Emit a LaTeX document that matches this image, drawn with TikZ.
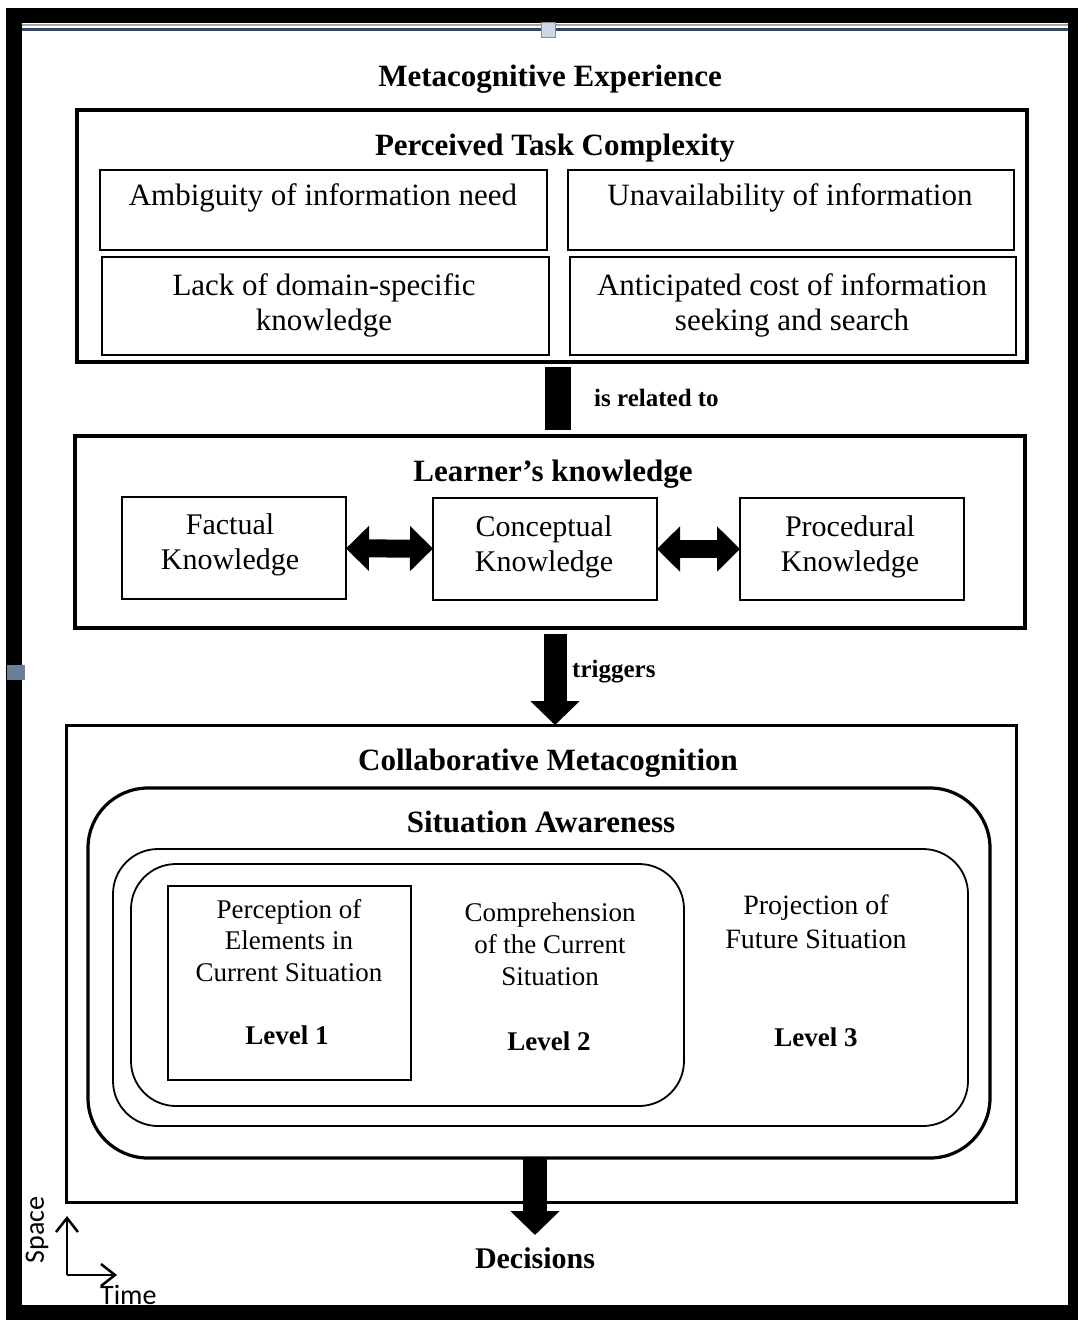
\documentclass[tikz,border=0pt]{standalone}
\usepackage{fontspec}
\setmainfont{Liberation Serif}
\newfontfamily\axisfont{Carlito}
\usetikzlibrary{arrows.meta}
\definecolor{rulerblue}{HTML}{34475C}
\definecolor{handlefill}{HTML}{C9D7E6}
\definecolor{handleside}{HTML}{6A7F99}

\begin{document}
\begin{tikzpicture}[x=1pt,y=-1pt,
  heavybox/.style={draw, line width=3.5pt, inner sep=0pt, outer sep=0pt},
  lightbox/.style={draw, line width=1.8pt, inner sep=0pt, outer sep=0pt},
  heavyround/.style={draw, line width=3.2pt, inner sep=0pt, outer sep=0pt, rounded corners=60pt},
  lightround/.style={draw, line width=1.8pt, inner sep=0pt, outer sep=0pt, rounded corners=45pt},
  titletext/.style={font=\fontsize{31}{36}\selectfont\bfseries, inner sep=0pt, anchor=base},
  bodytext/.style={font=\fontsize{31}{35}\selectfont, inner sep=0pt, anchor=base, align=center},
  knowtext/.style={font=\fontsize{30}{35}\selectfont, inner sep=0pt, anchor=base, align=center},
  satext/.style={font=\fontsize{27}{31.5}\selectfont, inner sep=0pt, anchor=base, align=center},
  leveltext/.style={font=\fontsize{27}{31}\selectfont\bfseries, inner sep=0pt, anchor=base},
  linktext/.style={font=\fontsize{25}{30}\selectfont\bfseries, inner sep=0pt, anchor=base west},
  fatbar/.style={line width=26pt},
  fatarrow/.style={line width=23pt, -{Triangle[width=48pt,length=24pt]}},
  twoway/.style={line width=18pt, {Triangle[width=44pt,length=23pt]}-{Triangle[width=44pt,length=23pt]}},
  axisline/.style={line width=2.5pt, -{Straight Barb[length=14pt,width=22pt,line width=2.5pt]}},
  axistext/.style={font=\fontsize{28}{32}\selectfont\axisfont, inner sep=0pt}
]
\useasboundingbox (0,0) rectangle (1078,1320);

% window frame
\fill[black] (6,8) rectangle (1078,1320);
\fill[white] (22,23) rectangle (1068,1305);
\draw[line width=1.5pt, black!35] (22,25) -- (1068,25);
\draw[line width=3pt, rulerblue] (22,29.5) -- (1068,29.5);
\draw[line width=1pt, draw=black!45, fill=handlefill] (541,22) rectangle (555,37);
\fill[handleside] (7,665) rectangle (25,680);

% title
\node[titletext] (meta) at (550,86) {Metacognitive Experience};

% perceived task complexity (multi-line texts are placed by their last baseline)
\node[heavybox, minimum width=950pt, minimum height=252pt] (ptc) at (552,236) {};
\node[titletext] (ptc-t) at (555,155) {Perceived Task Complexity};
\node[lightbox, minimum width=447pt, minimum height=80pt] (amb) at (323.5,210) {};
\node[bodytext] (amb-t) at (323,205) {Ambiguity of information need};
\node[lightbox, minimum width=446pt, minimum height=80pt] (unav) at (791,210) {};
\node[bodytext] (unav-t) at (790,205) {Unavailability of information};
\node[lightbox, minimum width=447pt, minimum height=98pt] (lack) at (325.5,306) {};
\node[bodytext] (lack-t) at (324,330) {Lack of domain-specific\\knowledge};
\node[lightbox, minimum width=446pt, minimum height=98pt] (antc) at (793,306) {};
\node[bodytext] (antc-t) at (792,330) {Anticipated cost of information\\seeking and search};

% learner's knowledge
\node[heavybox, minimum width=950pt, minimum height=192pt] (lk) at (550,532) {};
\node[titletext] (lk-t) at (553,481) {Learner’s knowledge};
\node[lightbox, minimum width=224pt, minimum height=102pt] (fact) at (234,548) {};
\node[knowtext] (fact-t) at (230,569) {Factual\\Knowledge};
\node[lightbox, minimum width=224pt, minimum height=102pt] (conc) at (545,549) {};
\node[knowtext] (conc-t) at (544,571) {Conceptual\\Knowledge};
\node[lightbox, minimum width=224pt, minimum height=102pt] (proc) at (852,549) {};
\node[knowtext] (proc-t) at (850,571) {Procedural\\Knowledge};

% collaborative metacognition
\node[heavybox, line width=3pt, minimum width=950pt, minimum height=477pt] (cm) at (541,963.5) {};
\node[titletext] (cm-t) at (548,770) {Collaborative Metacognition};
\node[heavyround, minimum width=902pt, minimum height=370pt] (sa) at (539,973) {};
\node[titletext] (sa-t) at (541,832) {Situation Awareness};
\node[lightround, minimum width=855pt, minimum height=277pt] (proj) at (540.5,987.5) {};
\node[lightround, minimum width=553pt, minimum height=242pt] (comp) at (407.5,985) {};
\node[lightbox, minimum width=243pt, minimum height=194pt] (perc) at (289.5,983) {};
\node[satext] (perc-t) at (289,981) {Perception of\\Elements in\\Current Situation};
\node[leveltext] (lv1) at (287,1044) {Level 1};
\node[satext, font=\fontsize{27}{32}\selectfont] (comp-t) at (550,985) {Comprehension\\of the Current\\Situation};
\node[leveltext] (lv2) at (549,1050) {Level 2};
\node[satext, font=\fontsize{28}{34}\selectfont] (proj-t) at (816,948) {Projection of\\Future Situation};
\node[leveltext] (lv3) at (816,1046) {Level 3};

% outcome
\node[titletext, font=\fontsize{30}{35}\selectfont\bfseries] (dec) at (535,1268) {Decisions};

% connectors
\draw[fatbar, shorten <=5pt, shorten >=6pt] ([xshift=6pt]ptc.south) -- ([xshift=8pt]lk.north);
\node[linktext] (rel) at (594,406) {is related to};
\draw[twoway] (fact) -- (conc);
\draw[twoway] (conc) -- (proc);
\draw[fatarrow, shorten <=6pt] ([xshift=5pt]lk.south) -- ([xshift=14pt]cm.north);
\node[linktext] (trig) at (572,677) {triggers};
\draw[fatarrow, line width=24pt, shorten >=12pt] ([xshift=-4pt]sa.south) -- (dec.north);

% space / time axes
\coordinate (origin) at (67,1275);
\coordinate (spaceend) at (67,1216);
\coordinate (timeend) at (117,1275);
\draw[axisline] (origin) -- (spaceend);
\draw[axisline] (origin) -- (timeend);
\node[axistext, rotate=90] (space) at (37,1230) {Space};
\node[axistext, anchor=base west] (time) at (100,1304) {Time};
\end{tikzpicture}
\end{document}
